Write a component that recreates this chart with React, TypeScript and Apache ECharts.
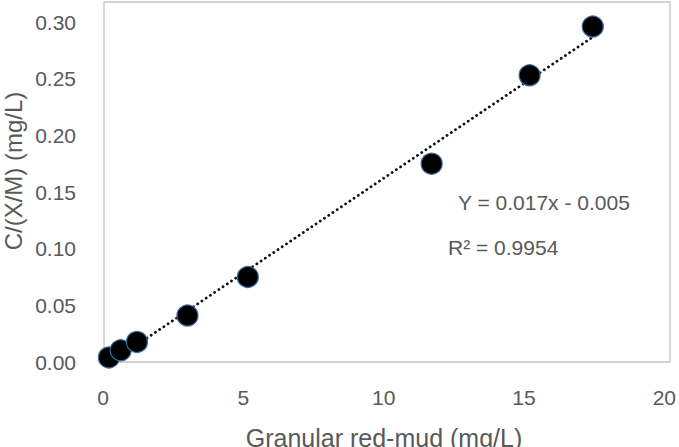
import React, { useEffect, useRef } from "react";
import * as echarts from "echarts";

const concentration = [0.21, 0.63, 1.21, 3.01, 5.16, 11.71, 15.2, 17.45];
const ratio = [0.004, 0.0103, 0.0177, 0.041, 0.075, 0.175, 0.253, 0.296];
const equationText = "Y = 0.017x - 0.005";
const r2Text = "R\u00B2 = 0.9954";
const xTitle = "Granular red-mud (mg/L)";
const yTitle = "C/(X/M) (mg/L)";

function fit(xs: number[], ys: number[]) {
  const n = xs.length;
  const mx = xs.reduce((a, b) => a + b, 0) / n;
  const my = ys.reduce((a, b) => a + b, 0) / n;
  let sxy = 0;
  let sxx = 0;
  for (let i = 0; i < n; i++) {
    sxy += (xs[i] - mx) * (ys[i] - my);
    sxx += (xs[i] - mx) * (xs[i] - mx);
  }
  const slope = sxy / sxx;
  return { slope, intercept: my - slope * mx };
}

export default function App() {
  const ref = useRef<HTMLDivElement>(null);
  useEffect(() => {
    if (!ref.current) return;
    const chart = echarts.init(ref.current, undefined, { renderer: "svg" });
    const { slope, intercept } = fit(concentration, ratio);
    const x0 = Math.min(...concentration);
    const x1 = Math.max(...concentration);
    const labelColor = "#595959";
    const font = "'Liberation Sans', Arial, sans-serif";
    chart.setOption({
      animation: false,
      backgroundColor: "#ffffff",
      grid: { left: 103, right: 10, top: 22, bottom: 85, containLabel: false },
      xAxis: {
        type: "value",
        min: 0,
        max: 20,
        interval: 5,
        axisLine: { show: false },
        axisTick: { show: false },
        splitLine: { show: false },
        axisLabel: { color: labelColor, fontSize: 21, fontFamily: font, margin: 25 },
      },
      yAxis: {
        type: "value",
        min: 0,
        max: 0.3,
        interval: 0.05,
        axisLine: { show: false },
        axisTick: { show: false },
        splitLine: { show: false },
        axisLabel: {
          color: labelColor,
          fontSize: 21,
          fontFamily: font,
          margin: 27,
          formatter: (v: number) => v.toFixed(2),
        },
      },
      graphic: [
        {
          type: "rect",
          z: -1,
          shape: { x: 104, y: 2, width: 566, height: 360 },
          style: { fill: "none", stroke: "#d4d4d4", lineWidth: 1.8 },
        },
        {
          type: "text",
          x: 458,
          y: 202,
          style: { text: equationText, fill: labelColor, fontSize: 21, fontFamily: font, verticalAlign: "middle" },
        },
        {
          type: "text",
          x: 448,
          y: 247,
          style: { text: r2Text, fill: labelColor, fontSize: 21, fontFamily: font, verticalAlign: "middle" },
        },
        {
          type: "text",
          x: 384,
          y: 438,
          style: { text: xTitle, fill: labelColor, fontSize: 25, fontFamily: font, align: "center", verticalAlign: "middle" },
        },
        {
          type: "text",
          x: 13,
          y: 171,
          rotation: Math.PI / 2,
          style: { text: yTitle, fill: labelColor, fontSize: 24, fontFamily: font, align: "center", verticalAlign: "middle" },
        },
      ],
      series: [
        {
          type: "line",
          data: [
            [x0, intercept + slope * x0],
            [x1, intercept + slope * x1],
          ],
          showSymbol: false,
          symbol: "none",
          z: 1,
          lineStyle: { color: "#111111", width: 2.8, type: [0.1, 5], cap: "round" },
        },
        {
          type: "scatter",
          data: concentration.map((x, i) => [x, ratio[i]]),
          symbol: "circle",
          symbolSize: 21,
          z: 2,
          itemStyle: { color: "#000000", opacity: 1, borderColor: "#3a6c9e", borderWidth: 1.2 },
        },
      ],
    });
    return () => chart.dispose();
  }, []);
  return (
    <div
      ref={ref}
      style={{ position: "fixed", left: 0, top: 0, width: 679, height: 447 }}
    />
  );
}
